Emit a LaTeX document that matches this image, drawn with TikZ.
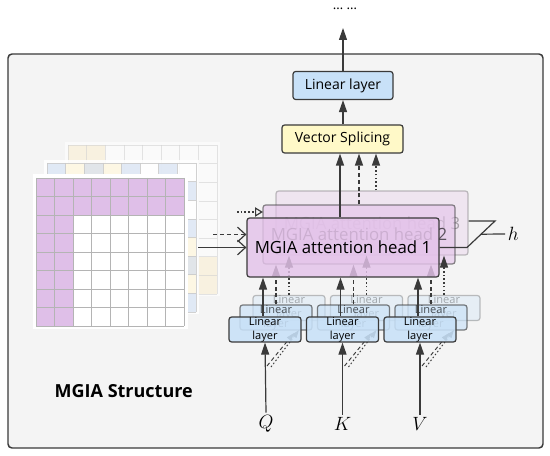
\documentclass[tikz,border=0pt]{standalone}
\usepackage{fontspec}
\setmainfont{Open Sans}
\usetikzlibrary{arrows.meta,calc}
\definecolor{framebg}{HTML}{F4F4F4}
\definecolor{dark}{HTML}{3A3A3A}
\definecolor{purp}{HTML}{DFBFE8}
\definecolor{headc}{HTML}{E4C3EA}
\definecolor{linblue}{HTML}{C8E1F8}
\definecolor{vsyel}{HTML}{FFF9C8}
\definecolor{mblue}{HTML}{DCE6F4}
\definecolor{myel}{HTML}{FDF6E0}
\definecolor{mgray}{HTML}{DDE1E6}
\definecolor{byel}{HTML}{F8ECCF}
\definecolor{gridc}{HTML}{B4B4B4}
\tikzset{
  arr/.style={draw=dark, line width=0.9pt, -{Triangle[length=9pt,width=6pt]}},
  dsh/.style={dash pattern=on 3pt off 2.2pt},
  dtt/.style={dash pattern=on 1.2pt off 1.6pt},
  boxc/.style={draw=dark, line width=0.9pt, rounded corners=2pt, inner sep=0pt, align=center},
  headbox/.style={boxc, fill=headc, minimum width=192*0.75pt, minimum height=59*0.75pt, font=\fontsize{12.6}{14}\selectfont},
  linbox/.style={boxc, fill=linblue, minimum width=72*0.75pt, minimum height=25*0.75pt, font=\fontsize{8.3}{10.5}\selectfont},
  topbox/.style={boxc, minimum height=28*0.75pt, font=\fontsize{10.5}{12}\selectfont},
  lbl/.style={font=\fontsize{15}{17}\selectfont, inner sep=2pt},
  barb/.style={dark, line width=0.9pt, -{Straight Barb[length=6pt,width=11pt]}},
}
\begin{document}
\begin{tikzpicture}[x=0.75pt,y=-0.75pt]
\useasboundingbox (0,0) rectangle (550,456);
\fill[white] (0,0) rectangle (550,456);
% frame
\draw[draw=dark, fill=framebg, line width=1.1pt, rounded corners=3pt] (8,54) rectangle (543,448);
\node[font=\bfseries\fontsize{13.5}{15}\selectfont, anchor=west] (title) at (50,391) {MGIA Structure};

% ---- back matrix
\begin{scope}[opacity=0.6]
\fill[white] (65,142) rectangle (220,296);
\fill[byel] (68,145) rectangle (105.2,163.6);
\fill[byel] (198.2,256.6) rectangle (216.8,293.8);
\foreach \i in {0,...,8} {
  \draw[gridc!60, line width=0.4pt] (68+\i*18.6,145) -- (68+\i*18.6,293.8);
  \draw[gridc!60, line width=0.4pt] (68,145+\i*18.6) -- (216.8,145+\i*18.6);
}
\end{scope}
% ---- middle matrix
\begin{scope}[opacity=0.85]
\fill[white] (44,160) rectangle (199,314);
\foreach \c/\col in {0/mblue,1/myel,2/mgray,3/myel,4/mblue,5/white,6/mblue} {
  \fill[\col] (47+\c*18.6,163) rectangle (47+\c*18.6+18.6,181.6);
  \fill[\col] (177.2,163+18.6*7-\c*18.6) rectangle (195.8,163+18.6*8-\c*18.6);
}
\foreach \i in {0,...,8} {
  \draw[gridc!70, line width=0.4pt] (47+\i*18.6,163) -- (47+\i*18.6,311.8);
  \draw[gridc!70, line width=0.4pt] (47,163+\i*18.6) -- (195.8,163+\i*18.6);
}
\end{scope}
% ---- front matrix
\fill[white] (33,174) rectangle (188,329);
\fill[purp] (36,178) rectangle (184,215);
\fill[purp] (36,215) rectangle (73,326);
\foreach \i in {0,...,8} {
  \draw[gridc, line width=0.5pt] (36+\i*18.5,178) -- (36+\i*18.5,326);
  \draw[gridc, line width=0.5pt] (36,178+\i*18.5) -- (184,178+\i*18.5);
}

% ---- top boxes
\node[topbox, fill=linblue, minimum width=100*0.75pt] (toplin) at (343,85.5) {Linear layer};
\node[topbox, fill=vsyel, minimum width=121*0.75pt] (vs) at (342.5,139) {Vector Splicing};
\node[font=\fontsize{10}{12}\selectfont] (dots) at (345,9) {… …};
\coordinate (topend) at (343,28);
\draw[arr] (toplin.north) -- (topend);
\draw[arr] (toplin.south |- vs.north) -- (toplin.south);

% ---- heads 3 and 2
\node[headbox, opacity=0.3, minimum height=64*0.75pt] (head3) at (372,223) {MGIA attention head 3};
\node[headbox, opacity=0.6] (head2) at (359,234.5) {MGIA attention head 2};

% arrows from heads to Vector Splicing
\draw[arr, dsh] (head2.north) -- (head2.north |- vs.south);
\draw[arr, dtt] ([xshift=3pt]head3.north) -- ([xshift=3pt]head3.north |- vs.south);

% left inputs to heads 2 and 3
\coordinate (dstart) at (213,234.5);
\coordinate (tstart) at (237,212);
\coordinate (tend) at (263,212);
\draw[dark, dtt, line width=0.9pt, -{Triangle[open,length=6pt,width=7pt]}] (tstart) -- (tend);

% ---- linear layers (back, middle)
\foreach \n/\x in {a/265,b/342.5,c/420} {
  \node[linbox, opacity=0.3] (linC\n) at (\x+24,308) {Linear\\layer};
}
\foreach \n/\x in {a/265,b/342.5,c/420} {
  \node[linbox, opacity=0.65] (linB\n) at (\x+11,317.5) {Linear\\layer};
}
% dashed / dotted up to heads 2, 3
\foreach \n in {a,b,c} {
  \draw[arr, dtt] (linC\n.north) -- (linC\n.north |- head3.south);
  \draw[arr, dsh] (linB\n.north) -- (linB\n.north |- head2.south);
}
% Q K V
\node[lbl] (Q) at (266,424) {$Q$};
\node[lbl] (K) at (342.5,424) {$K$};
\node[lbl] (V) at (420,424) {$V$};
% diagonal inputs to back layers
\foreach \n/\x in {a/265,b/342.5,c/420} {
  \coordinate (dd\n) at (\x+2,366);
  \coordinate (de\n) at (\x+29,333);
  \coordinate (td\n) at (\x+6,367);
  \coordinate (te\n) at (\x+34,330);
  \draw[arr, dsh, line width=0.7pt, -{Triangle[length=6pt,width=4pt]}] (dd\n) -- (de\n);
  \draw[arr, dtt, line width=0.7pt, -{Triangle[length=6pt,width=4pt]}] (td\n) -- (te\n);
}
% front linear layers
\foreach \n/\x in {a/265,b/342.5,c/420} {
  \node[linbox, fill opacity=0.88, text opacity=1] (linA\n) at (\x,329.5) {Linear\\layer};
}
% ---- head 1
\node[headbox, fill opacity=0.82, text opacity=1] (head1) at (343,247.5) {MGIA attention head 1};

\draw[arr] (Q.north) -- (linAa.south);
\draw[arr] (K.north) -- (linAb.south);
\draw[arr] (V.north) -- (linAc.south);
\foreach \n in {a,b,c} {
  \draw[arr] ([xshift=-1.5pt]linA\n.north) -- ([xshift=-1.5pt]linA\n.north |- head1.south);
}
\draw[arr] ([xshift=-2.25pt]head1.north) -- ([xshift=-2.25pt]head1.north |- vs.south);

% left inputs
\coordinate (sstart) at (198,247.5);
\draw[barb] (sstart) -- (head1.west);
\draw[barb, dsh] (dstart) -- (head1.west |- dstart);

% h connector
\coordinate (hb) at (467,247.5);
\coordinate (ht) at (495,221);
\coordinate (hm) at (481,234.2);
\node[lbl, anchor=west] (hlab) at (505,234) {$h$};
\draw[dark, line width=0.9pt] (head1.east) -- (hb) -- (ht) -- (head3.east |- ht);
\draw[dark, line width=0.9pt] (hm) -- (hlab.west);
\end{tikzpicture}
\end{document}
